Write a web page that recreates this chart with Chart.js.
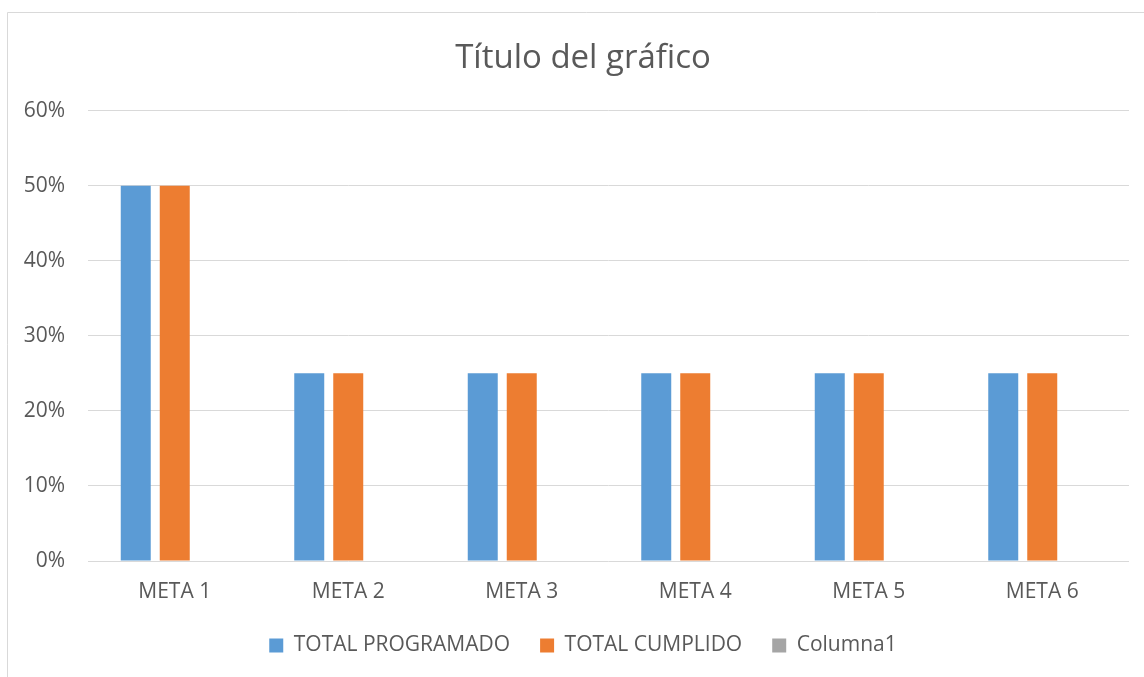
<!DOCTYPE html>
<html>
<head>
<meta charset="utf-8">
<script src="https://cdn.jsdelivr.net/npm/chart.js@4"></script>
<style>
  html, body { margin: 0; padding: 0; background: #ffffff; overflow: hidden; }
  #wrap { position: relative; width: 1144px; height: 677px; overflow: hidden; }
  #c { display: block; }
</style>
</head>
<body>
<div id="wrap"><canvas id="c" width="1166" height="677"></canvas></div>
<script>
const categories = ["META 1", "META 2", "META 3", "META 4", "META 5", "META 6"];
const totalProgramado = [0.50, 0.25, 0.25, 0.25, 0.25, 0.25];
const totalCumplido = [0.50, 0.25, 0.25, 0.25, 0.25, 0.25];
const columna1 = [null, null, null, null, null, null];
const seriesNames = ["TOTAL PROGRAMADO", "TOTAL CUMPLIDO", "Columna1"];
const yTicks = [0, 0.1, 0.2, 0.3, 0.4, 0.5, 0.6];
const chartTitle = "Título del gráfico";

const FONT = "'Open Sans', 'Liberation Sans', sans-serif";
const TEXT = "#595959";
const GRID = "#d9d9d9";

const frame = {
  id: 'frame',
  beforeDraw(chart) {
    const ctx = chart.ctx;
    ctx.save();
    ctx.fillStyle = '#ffffff';
    ctx.fillRect(0, 0, chart.width, chart.height);
    ctx.strokeStyle = GRID;
    ctx.lineWidth = 1;
    ctx.beginPath();
    ctx.moveTo(7.5, chart.height);
    ctx.lineTo(7.5, 12.5);
    ctx.lineTo(chart.width, 12.5);
    ctx.stroke();
    ctx.restore();
  }
};

new Chart(document.getElementById('c'), {
  type: 'bar',
  data: {
    labels: categories,
    datasets: [
      { label: seriesNames[0], data: totalProgramado, backgroundColor: '#5b9bd5', borderWidth: 0 },
      { label: seriesNames[1], data: totalCumplido, backgroundColor: '#ed7d31', borderWidth: 0 },
      { label: seriesNames[2], data: columna1, backgroundColor: '#a5a5a5', borderWidth: 0 }
    ]
  },
  options: {
    responsive: false,
    animation: false,
    devicePixelRatio: 1,
    layout: { padding: { left: 0, right: 0, top: 0, bottom: 11 } },
    datasets: { bar: { categoryPercentage: 0.6744, barPercentage: 0.769 } },
    plugins: {
      title: {
        display: true,
        text: chartTitle,
        color: TEXT,
        font: { family: FONT, size: 33, weight: 'normal' },
        padding: { top: 39, bottom: 32 }
      },
      legend: {
        position: 'bottom',
        labels: {
          color: TEXT,
          font: { family: FONT, size: 21 },
          boxWidth: 14,
          boxHeight: 14,
          padding: 30
        }
      },
      tooltip: { enabled: false }
    },
    scales: {
      x: {
        afterFit(scale) { scale.height = 44; },
        grid: { display: false, drawTicks: false },
        border: { display: false },
        ticks: { color: TEXT, font: { family: FONT, size: 21 }, padding: 18 }
      },
      y: {
        min: 0,
        max: 0.6,
        afterFit(scale) { scale.width = 88; },
        afterBuildTicks(scale) { scale.ticks = yTicks.map(v => ({ value: v })); },
        grid: { color: GRID, lineWidth: 1, drawTicks: false },
        border: { display: false },
        ticks: {
          color: TEXT,
          font: { family: FONT, size: 21 },
          padding: 23,
          callback: v => Math.round(v * 100) + '%'
        }
      },
      y2: {
        position: 'right',
        display: true,
        afterFit(scale) { scale.width = 37; },
        grid: { display: false, drawTicks: false },
        border: { display: false },
        ticks: { display: false }
      }
    }
  },
  plugins: [frame]
});
</script>
</body>
</html>
